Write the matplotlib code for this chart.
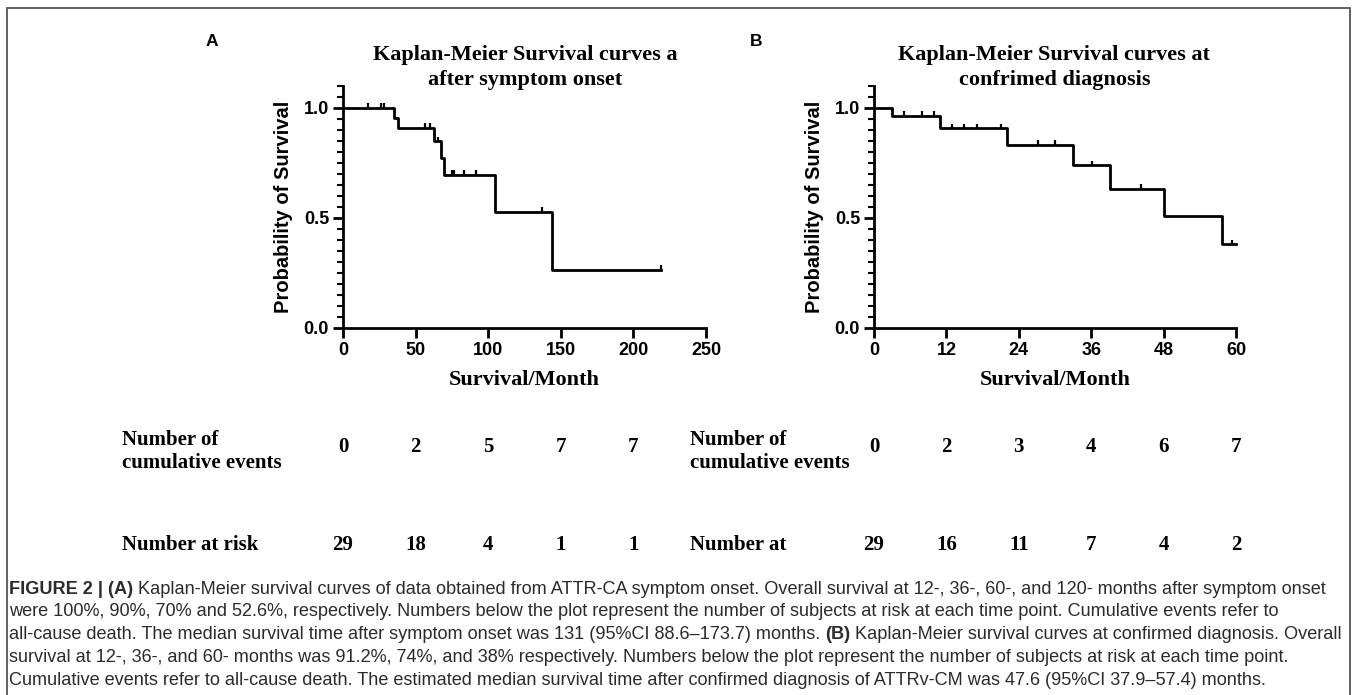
import numpy as np
import matplotlib.pyplot as plt
import matplotlib.transforms as mtransforms
from matplotlib.patches import Rectangle

W, H = 1357, 695

# panel A - survival after symptom onset (months)
a_event_t = [35.2, 38.2, 62.8, 67.4, 69.7, 105.0, 143.9]
a_event_s = [0.955, 0.909, 0.848, 0.771, 0.694, 0.526, 0.263]
a_censor_t = [17.3, 26.5, 28.3, 56.4, 59.7, 65.6, 75.1, 76.7, 83.6, 91.6, 137.0, 218.8]
a_end = 218.8
a_xticks = [0, 50, 100, 150, 200, 250]
a_table_t = [0, 50, 100, 150, 200]
a_cum_events = [0, 2, 5, 7, 7]
a_at_risk = [29, 18, 4, 1, 1]

# panel B - survival at confirmed diagnosis (months)
b_event_t = [3.0, 11.0, 22.0, 33.0, 39.1, 48.0, 57.6]
b_event_s = [0.964, 0.907, 0.831, 0.739, 0.633, 0.507, 0.380]
b_censor_t = [5.0, 8.0, 10.0, 13.0, 15.0, 17.0, 21.1, 27.1, 30.0, 36.1, 44.2, 59.4]
b_end = 60.0
b_xticks = [0, 12, 24, 36, 48, 60]
b_table_t = [0, 12, 24, 36, 48, 60]
b_cum_events = [0, 2, 3, 4, 6, 7]
b_at_risk = [29, 16, 11, 7, 4, 2]

caption = [
    [("FIGURE 2 | (A)", "bold"),
     (" Kaplan-Meier survival curves of data obtained from ATTR-CA symptom onset. "
      "Overall survival at 12-, 36-, 60-, and 120- months after symptom onset", "normal")],
    [("were 100%, 90%, 70% and 52.6%, respectively. Numbers below the plot represent "
      "the number of subjects at risk at each time point. Cumulative events refer to", "normal")],
    [("all-cause death. The median survival time after symptom onset was 131 "
      "(95%CI 88.6\u2013173.7) months. ", "normal"),
     ("(B)", "bold"),
     (" Kaplan-Meier survival curves at confirmed diagnosis. Overall", "normal")],
    [("survival at 12-, 36-, and 60- months was 91.2%, 74%, and 38% respectively. "
      "Numbers below the plot represent the number of subjects at risk at each time point.", "normal")],
    [("Cumulative events refer to all-cause death. The estimated median survival time after "
      "confirmed diagnosis of ATTRv-CM was 47.6 (95%CI 37.9\u201357.4) months.", "normal")],
]

SANS = "Liberation Sans"
SERIF = "Liberation Serif"


def fx(x):
    return x / W


def fy(y):
    return 1 - y / H


fig = plt.figure(figsize=(W / 100, H / 100), dpi=100)


def km_panel(left, right, ev_t, ev_s, cens_t, end, xticks, title_lines, letter, letter_x):
    top, bottom = 86, 328
    ax = fig.add_axes([fx(left), fy(bottom), (right - left) / W, (bottom - top) / H])
    t = np.array([0] + ev_t + [end])
    s = np.array([1.0] + ev_s + [ev_s[-1]])
    ax.step(t, s, where="post", color="black", lw=2.0, clip_on=False)
    idx = np.searchsorted(t, cens_t, side="right") - 1
    cs = s[idx]
    ax.vlines(cens_t, cs, cs + 0.022, color="black", lw=1.6, clip_on=False)

    ax.set_xlim(xticks[0], xticks[-1])
    ax.set_ylim(0, 1.1)
    ax.set_xticks(xticks)
    ax.set_yticks([0, 0.5, 1.0])
    ax.set_yticklabels(["0.0", "0.5", "1.0"])
    ax.set_yticks(np.arange(0, 1.101, 0.05), minor=True)
    for sp in ["top", "right"]:
        ax.spines[sp].set_visible(False)
    for sp in ["left", "bottom"]:
        ax.spines[sp].set_linewidth(2.0)
    ax.tick_params(which="major", length=7, width=2.0, pad=3)
    ax.tick_params(which="minor", length=4, width=1.5)
    for lab in ax.get_xticklabels() + ax.get_yticklabels():
        lab.set_fontfamily(SANS)
        lab.set_fontweight("bold")
        lab.set_fontsize(13)
    ax.text(-0.165, 0.5, "Probability of Survival", transform=ax.transAxes, rotation=90,
            ha="center", va="center", fontsize=14.5, fontweight="bold", family=SANS)
    cx = (left + right) / 2
    fig.text(fx(cx), fy(380), "Survival/Month", ha="center", va="center",
             fontsize=16, fontweight="bold", family=SERIF)
    for i, line in enumerate(title_lines):
        fig.text(fx(line[1]), fy(55 + 25 * i), line[0], ha="center", va="center",
                 fontsize=16, fontweight="bold", family=SERIF)
    fig.text(fx(letter_x), fy(42), letter, ha="center", va="center",
             fontsize=12.5, fontweight="bold", family=SANS)
    return ax


ax_a = km_panel(343, 706, a_event_t, a_event_s, a_censor_t, a_end, a_xticks,
                [("Kaplan-Meier Survival curves a", 525), ("after symptom onset", 525)], "A", 212)
ax_b = km_panel(874, 1236, b_event_t, b_event_s, b_censor_t, b_end, b_xticks,
                [("Kaplan-Meier Survival curves at", 1054), ("confrimed diagnosis", 1055)], "B", 756)


def risk_table(ax, label_x, times, cum, risk, risk_label):
    tr = mtransforms.blended_transform_factory(ax.transData, fig.transFigure)
    kw = dict(fontsize=15, fontweight="bold", family=SERIF, va="center")
    fig.text(fx(label_x), fy(440), "Number of", ha="left", **kw)
    fig.text(fx(label_x), fy(463), "cumulative events", ha="left", **kw)
    fig.text(fx(label_x), fy(545), risk_label, ha="left", **kw)
    for t, c, r in zip(times, cum, risk):
        ax.text(t, fy(447), str(c), transform=tr, ha="center", clip_on=False, **kw)
        ax.text(t, fy(545), str(r), transform=tr, ha="center", clip_on=False, **kw)


risk_table(ax_a, 122, a_table_t, a_cum_events, a_at_risk, "Number at risk")
risk_table(ax_b, 690, b_table_t, b_cum_events, b_at_risk, "Number at")

# caption, pieces laid out one after another
fig.canvas.draw()
renderer = fig.canvas.get_renderer()
cap_size = 13.1
for i, line in enumerate(caption):
    x = 9
    y = 589 + 22.8 * i
    for txt, weight in line:
        t = fig.text(fx(x), fy(y), txt, ha="left", va="center", fontsize=cap_size,
                     fontweight=weight, family=SANS, color="#2b2b2b")
        bb = t.get_window_extent(renderer)
        x += bb.width

# figure frame
fig.add_artist(Rectangle((fx(7), fy(720)), (1350 - 7) / W, (720 - 8) / H,
                         transform=fig.transFigure, fill=False, edgecolor="#555555", lw=1.3))

fig.savefig("out.png", dpi=100)
